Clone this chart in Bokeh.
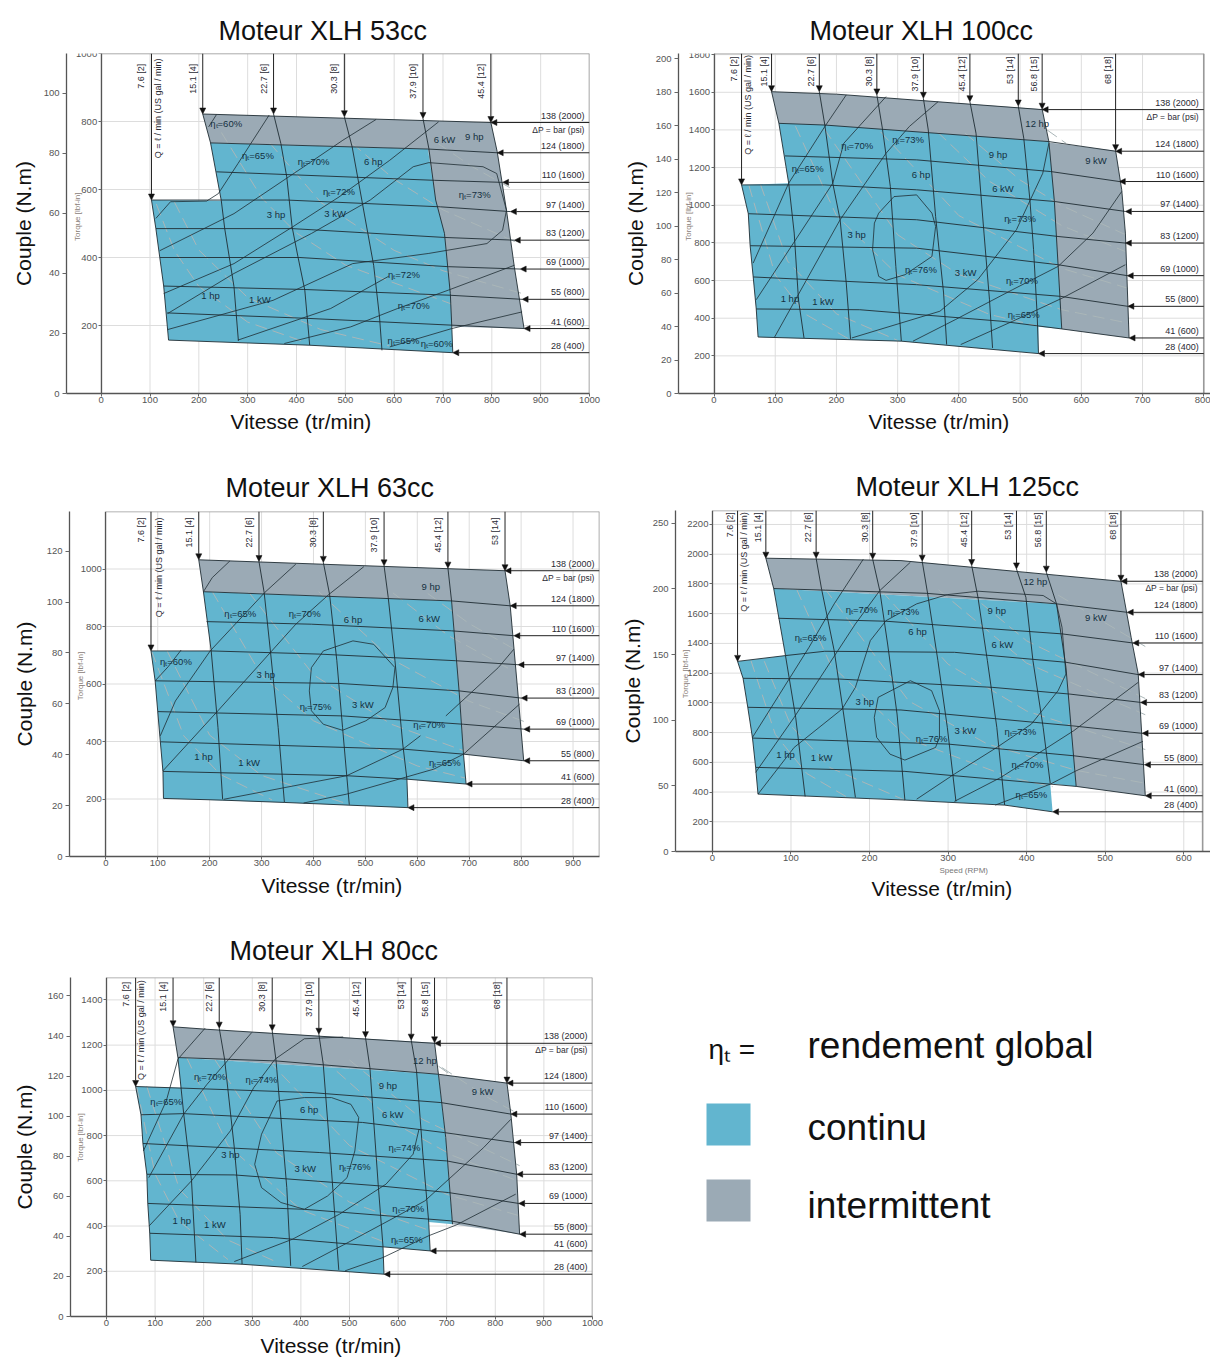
from bokeh.embed import file_html
from bokeh.resources import INLINE
from bokeh.plotting import figure
from bokeh.layouts import column, row
from bokeh.models import (Range1d, LinearAxis, FixedTicker, Arrow, NormalHead,
                          ColumnDataSource, Title)
from bokeh.core.properties import value

FONT = "Liberation Sans"
BLUE = "#62b5cf"
GREY = "#9baab5"
INK = "#1f2d33"

PRESS_NAMES = ["138 (2000)", "124 (1800)", "110 (1600)", "97 (1400)", "83 (1200)",
               "69 (1000)", "55 (800)", "41 (600)", "28 (400)"]
DP_NAME = "ΔP = bar (psi)"
Q_NAME = "Q = ℓ / min (US gal / min)"
TORQUE_NAME = "Torque [lbf-in]"

# ---------- 53cc ----------
C53_CONT = [(224,737),(669,719),(685,569),(703,471),(715,294),(718,196),(720,120),(427,142),(138,157),(128,316),(120,400),(112,485),(103,569),(246,567)]
C53_INT = [(208,822),(798,797),(811,711),(830,539),(846,373),(866,191),(718,196),(669,719),(224,737)]
C53_FLOW_NAMES = ["7.6 [2]","15.1 [4]","22.7 [6]","30.3 [8]","37.9 [10]","45.4 [12]"]
C53_FLOWS = [
 [(103,569),(112,485),(120,400),(128,316),(138,157)],
 [(208,822),(224,737),(246,567),(253,485),(272,314),(281,155)],
 [(353,822),(368,735),(380,637),(391,490),(403,402),(417,304),(427,142)],
 [(498,814),(514,725),(535,559),(558,377),(570,225),(575,127)],
 [(659,809),(671,721),(685,569),(703,471),(715,294),(718,196),(720,120)],
 [(798,797),(811,711),(830,539),(846,373),(866,191)]]
C53_PRESS = [
 [(208,822),(798,797)],
 [(224,737),(669,719),(811,708)],
 [(236,652),(683,627),(822,621)],
 [(103,569),(380,569),(695,549),(838,535)],
 [(112,485),(391,485),(703,459),(846,451)],
 [(120,400),(407,400),(711,373),(858,366)],
 [(128,316),(415,306),(714,289),(862,277)],
 [(135,237),(423,221),(718,201),(866,191)],
 [(138,157),(427,142),(720,120)]]
C53_ETA = [
 [(236,820),(220,784)],
 [(344,819),(280,676),(240,588),(216,566),(142,564),(112,515)],
 [(563,806),(495,745),(415,667),(272,529),(120,420)],
 [(691,799),(591,686),(487,578),(392,490),(272,382),(128,294)],
 [(136,235),(272,353),(431,471),(551,569),(639,667),(671,679),(782,667),(810,647),(830,539),(822,480),(790,441),(671,412),(515,382),(352,274),(136,188)],
 [(589,345),(470,250),(280,157)],
 [(846,377),(711,304),(607,250),(511,196),(375,147)],
 [(862,240),(718,191),(591,137)]]
C53_POWER = [
 [(113,557),(150,420),(200,315),(300,210),(420,150)],
 [(150,563),(200,422),(300,282),(450,188),(590,140)],
 [(246,768),(330,573),(400,472),(500,378),(718,263)],
 [(345,737),(450,562),(600,421),(700,361),(860,295)],
 [(513,737),(600,630),(700,540),(850,445)],
 [(690,735),(760,667),(840,603)]]
C53_NOTES = [("1 hp",224,287),("1 kW",325,276),("3 hp",358,526),("3 kW",479,529),("6 hp",557,683),("6 kW",703,748),("9 hp",764,755),
 ("ηₜ=60%",256,794),("ηₜ=65%",321,701),("ηₜ=70%",435,683),("ηₜ=72%",487,595),("ηₜ=73%",765,586),("ηₜ=72%",620,351),("ηₜ=70%",640,258),("ηₜ=65%",619,155),("ηₜ=60%",687,147)]

# ---------- 100cc ----------
C100_CONT = [(106,1435),(181,1426),(547,1338),(556,1020),(562,684),(568,343),(530,354),(530,212),(306,278),(72,300),(69,449),(64,619),(59,785),(56,955),(45,1108),(122,1117)]
C100_INT = [(94,1603),(200,1590),(536,1510),(547,1333),(656,1290),(666,1082),(672,852),(678,295),(568,343),(547,1338),(106,1435)]
C100_FLOW_NAMES = ["7.6 [2]","15.1 [4]","22.7 [6]","30.3 [8]","37.9 [10]","45.4 [12]","53 [14]","56.8 [15]","68 [18]"]
C100_FLOWS = [
 [(45,1108),(56,955),(59,785),(64,619),(69,449),(72,300)],
 [(94,1603),(106,1435),(122,1117),(131,852),(138,498),(147,295)],
 [(172,1603),(181,1426),(194,1117),(206,923),(216,587),(223,290)],
 [(266,1586),(275,1409),(288,1100),(297,675),(306,278)],
 [(342,1568),(350,1400),(362,940),(375,534),(380,260)],
 [(418,1550),(428,1382),(441,852),(450,498),(455,242)],
 [(497,1527),(506,1356),(516,1029),(522,764),(528,410),(530,212)],
 [(536,1510),(547,1338),(556,1020),(562,684),(568,343)],
 [(656,1290),(666,1082),(672,852),(678,295)]]
C100_PRESS = [
 [(94,1603),(200,1590),(536,1508)],
 [(106,1435),(181,1426),(547,1338),(656,1287)],
 [(116,1262),(331,1241),(550,1179),(662,1126)],
 [(45,1108),(181,1108),(331,1082),(556,1020),(672,967)],
 [(56,955),(331,923),(562,834),(672,799)],
 [(59,785),(331,772),(562,684),(675,626)],
 [(64,619),(331,578),(566,516),(676,463)],
 [(69,449),(238,445),(469,384),(568,343),(678,295)],
 [(72,300),(306,278),(530,212)]]
C100_ETA = [
 [(216,1586),(181,1418),(122,1117),(64,693)],
 [(281,1577),(212,1329),(194,1117),(69,498)],
 [(366,1550),(319,1418),(281,1276),(206,923),(99,300)],
 [(269,958),(294,1046),(331,1055),(356,958),(362,887),(356,728),(312,631),(281,601),(269,622),(259,764),(262,905),(269,958)],
 [(547,1329),(537,1170),(494,870),(431,605),(369,437),(225,295)],
 [(666,1073),(619,852),(562,675),(488,552),(394,392),(325,278)],
 [(672,684),(569,507),(488,384),(403,260)]]
C100_POWER = [
 [(57,1105),(100,630),(150,420),(220,290)],
 [(76,1110),(120,704),(200,423),(300,282)],
 [(133,1420),(200,945),(300,630),(450,420),(530,357)],
 [(180,1405),(300,843),(400,632),(568,445),(678,373)],
 [(272,1390),(400,945),(568,665),(676,559)],
 [(365,1389),(450,1127),(568,892),(672,754)],
 [(410,1383),(500,1134),(568,998),(672,844)],
 [(544,1400),(575,1329)]]
C100_NOTES = [("1 hp",124,507),("1 kW",178,490),("3 hp",233,843),("3 kW",411,643),("6 hp",338,1161),("6 kW",472,1090),("9 hp",464,1271),("9 kW",624,1237),("12 hp",528,1432),
 ("ηₜ=65%",153,1193),("ηₜ=70%",234,1315),("ηₜ=73%",317,1347),("ηₜ=76%",338,658),("ηₜ=73%",500,932),("ηₜ=70%",503,601),("ηₜ=65%",506,419)]

# ---------- 63cc ----------
C63_CONT = [(188,921),(666,889),(681,565),(689,356),(694,252),(580,269),(582,170),(344,188),(111,202),(110,296),(105,399),(100,504),(95,611),(87,715),(203,715)]
C63_INT = [(179,1032),(769,994),(779,872),(794,565),(805,333),(689,356),(666,889),(188,921)]
C63_FLOW_NAMES = ["7.6 [2]","15.1 [4]","22.7 [6]","30.3 [8]","37.9 [10]","45.4 [12]","53 [14]"]
C63_FLOWS = [
 [(87,715),(95,611),(100,504),(105,399),(110,296),(111,202)],
 [(179,1032),(188,921),(203,715),(216,449),(225,199)],
 [(295,1026),(305,918),(317,715),(332,449),(344,188)],
 [(419,1023),(431,912),(445,681),(456,449),(469,180)],
 [(536,1011),(544,901),(557,681),(572,391),(580,269),(582,170)],
 [(659,1003),(666,889),(681,565),(689,356),(694,252)],
 [(769,994),(779,872),(794,565),(805,333)]]
C63_PRESS = [
 [(179,1032),(769,994)],
 [(188,921),(666,889),(779,872)],
 [(194,817),(396,808),(666,785),(786,768)],
 [(87,715),(203,715),(411,704),(674,681),(794,667)],
 [(95,611),(449,602),(681,576),(800,551)],
 [(100,504),(456,489),(689,460),(805,443)],
 [(105,399),(576,373),(689,356),(805,333)],
 [(110,296),(464,281),(580,269),(694,252)],
 [(111,202),(224,196),(344,188),(582,170)]]
C63_ETA = [
 [(239,1028),(205,970),(188,921)],
 [(145,718),(120,660),(95,611)],
 [(366,1017),(306,918),(201,715),(134,541),(105,420)],
 [(497,1008),(430,912),(366,808),(216,507),(110,298)],
 [(396,657),(419,715),(476,750),(516,738),(557,657),(553,588),(538,518),(501,472),(456,439),(419,460),(396,507),(392,576),(396,657)],
 [(786,721),(756,657),(655,489)],
 [(606,420),(572,373),(464,281),(227,199)],
 [(797,530),(689,356),(632,304),(464,217),(381,186)]]
C63_POWER = [
 [(88,715),(150,420),(220,286),(320,197)],
 [(118,715),(200,422),(300,282),(470,180)],
 [(205,921),(300,630),(400,472),(600,315),(694,272)],
 [(275,920),(400,632),(550,460),(700,361)],
 [(410,921),(550,687),(700,540),(805,470)],
 [(553,917),(660,768),(780,650)],
 [(620,915),(700,810),(790,718)]]
C63_NOTES = [("1 hp",188,348),("1 kW",276,327),("3 hp",308,632),("3 kW",495,528),("6 hp",476,825),("6 kW",623,829),("9 hp",626,938),
 ("ηₜ=60%",135,678),("ηₜ=65%",259,845),("ηₜ=70%",383,845),("ηₜ=75%",404,522),("ηₜ=70%",623,460),("ηₜ=65%",653,327)]

# ---------- 125cc ----------
C125_CONT = [(78,1769),(438,1666),(450,1239),(463,438),(430,458),(433,267),(372,312),(245,346),(58,386),(55,566),(51,763),(45,970),(39,1165),(32,1279),(93,1318)]
C125_INT = [(68,1973),(240,1957),(520,1818),(533,1441),(542,1194),(551,375),(463,438),(438,1666),(78,1769)]
C125_FLOW_NAMES = ["7.6 [2]","15.1 [4]","22.7 [6]","30.3 [8]","37.9 [10]","45.4 [12]","53 [14]","56.8 [15]","68 [18]"]
C125_FLOWS = [
 [(32,1279),(39,1165),(45,970),(51,763),(55,566),(58,386)],
 [(68,1973),(78,1769),(93,1318),(106,902),(118,370)],
 [(132,1973),(139,1764),(155,1351),(167,925),(182,364)],
 [(204,1966),(213,1755),(223,1396),(235,925),(245,346)],
 [(267,1953),(274,1733),(287,1284),(299,835),(310,337)],
 [(330,1924),(338,1710),(350,1284),(362,835),(372,312)],
 [(387,1901),(399,1710),(408,1284),(421,835),(430,458)],
 [(425,1879),(438,1666),(450,1239),(463,438)],
 [(520,1818),(533,1441),(542,1194),(551,375)]]
C125_PRESS = [
 [(68,1973),(240,1957),(520,1818)],
 [(78,1769),(272,1737),(438,1666),(528,1609)],
 [(84,1569),(221,1549),(445,1464),(535,1403)],
 [(32,1279),(93,1318),(143,1347),(308,1340),(450,1273),(542,1190)],
 [(39,1165),(162,1160),(357,1104),(455,1059),(545,1003)],
 [(45,970),(240,952),(457,846),(547,795)],
 [(51,763),(299,723),(460,644),(550,584)],
 [(55,566),(245,539),(463,438),(551,375)],
 [(58,386),(245,346),(372,312),(433,267)]]
C125_ETA = [
 [(192,1966),(155,1666),(123,1374),(51,768)],
 [(252,1946),(213,1755),(182,1531),(104,902),(55,532)],
 [(438,1666),(421,1722),(338,1751),(299,1728),(260,1666),(221,1553),(201,1419),(182,1104),(165,958),(104,700),(58,386)],
 [(438,1666),(445,1508),(450,1194),(440,1082),(406,857),(362,700),(308,521),(260,352)],
 [(211,1037),(252,1149),(279,1082),(289,947),(289,768),(284,700),(245,615),(226,655),(209,768),(206,902),(211,1037)],
 [(542,1138),(460,813),(367,498),(308,337)],
 [(548,741),(463,543),(430,453),(360,312)]]
C125_POWER = [
 [(49,1285),(80,788),(120,525),(170,370)],
 [(66,1280),(100,845),(150,563),(245,345)],
 [(107,1766),(150,1260),(250,756),(380,497),(433,436)],
 [(143,1769),(250,1012),(350,723),(463,546),(551,459)],
 [(215,1755),(300,1260),(400,945),(551,686)],
 [(288,1760),(400,1267),(551,920)],
 [(325,1745),(400,1417),(551,1029)],
 [(440,1725),(551,1379)]]
C125_NOTES = [("1 hp",93,651),("1 kW",139,633),("3 hp",194,1010),("3 kW",322,817),("6 hp",261,1479),("6 kW",369,1392),("9 hp",362,1621),("9 kW",488,1576),("12 hp",411,1818),
 ("ηₜ=65%",125,1441),("ηₜ=70%",190,1625),("ηₜ=73%",243,1616),("ηₜ=76%",279,761),("ηₜ=73%",392,806),("ηₜ=70%",401,588),("ηₜ=65%",406,386)]

# ---------- 80cc ----------
C80_CONT = [(147,1145),(683,1071),(698,792),(712,408),(663,418),(666,290),(569,308),(571,187),(279,231),(91,249),(89,368),(85,500),(83,629),(75,765),(71,892),(60,1017),(153,1012)]
C80_INT = [(137,1281),(207,1270),(675,1210),(683,1071),(824,1032),(832,895),(844,629),(850,364),(712,408),(698,792),(683,1071),(147,1145)]
C80_FLOW_NAMES = ["7.6 [2]","15.1 [4]","22.7 [6]","30.3 [8]","37.9 [10]","45.4 [12]","53 [14]","56.8 [15]","68 [18]"]
C80_FLOWS = [
 [(60,1017),(71,892),(75,765),(83,629),(85,500),(89,368),(91,249)],
 [(137,1281),(147,1145),(159,895),(175,600),(184,239)],
 [(232,1275),(243,1138),(263,747),(275,452),(279,231)],
 [(341,1263),(349,1130),(371,570),(379,224)],
 [(437,1248),(446,1116),(463,644),(478,206)],
 [(533,1233),(542,1101),(559,585),(569,308),(571,187)],
 [(627,1222),(638,1086),(651,718),(663,418),(666,290)],
 [(675,1210),(683,1071),(698,792),(712,408)],
 [(824,1032),(832,895),(844,629),(850,364)]]
C80_PRESS = [
 [(137,1281),(207,1270),(675,1208)],
 [(147,1145),(349,1130),(683,1071),(824,1032)],
 [(60,1017),(423,990),(688,946),(832,895)],
 [(71,892),(159,897),(527,858),(696,813),(840,769)],
 [(75,765),(439,725),(700,688),(844,629)],
 [(83,629),(263,626),(559,578),(704,548),(848,500)],
 [(85,500),(407,474),(708,423),(850,364)],
 [(89,368),(343,349),(569,308),(666,290)],
 [(91,249),(279,231),(571,187)]]
C80_ETA = [
 [(203,1275),(147,1138),(123,953),(76,732)],
 [(299,1256),(243,1116),(207,1027),(159,895),(87,614)],
 [(487,1236),(407,1228),(347,1138),(303,1012),(255,821),(175,600),(88,401)],
 [(643,828),(631,718),(575,585),(479,452),(383,342),(263,243)],
 [(351,953),(407,968),(463,968),(503,938),(519,880),(511,732),(495,614),(455,533),(407,474),(359,504),(319,570),(305,673),(319,806),(351,953)],
 [(832,872),(776,747),(655,511),(599,445),(503,334),(403,221)],
 [(842,541),(720,405),(663,357),(569,261),(491,202)]]
C80_POWER = [
 [(62,1016),(100,630),(150,420),(250,252)],
 [(83,1018),(150,563),(250,338),(350,241)],
 [(165,1145),(250,756),(400,472),(569,332)],
 [(222,1139),(350,723),(500,506),(663,382)],
 [(335,1128),(500,756),(700,540),(850,445)],
 [(446,1137),(600,845),(712,712),(850,596)],
 [(500,1134),(650,872),(850,667)],
 [(690,1101),(780,974),(840,905)],
 [(683,1107),(720,1050)]]
C80_NOTES = [("1 hp",155,423),("1 kW",223,408),("3 hp",255,715),("3 kW",409,654),("6 hp",417,917),("6 kW",589,892),("9 hp",579,1020),("9 kW",774,995),("12 hp",655,1133),
 ("ηₜ=65%",123,949),("ηₜ=70%",213,1060),("ηₜ=74%",319,1049),("ηₜ=76%",511,663),("ηₜ=74%",613,747),("ηₜ=70%",621,479),("ηₜ=65%",618,342)]


def unzip(curves):
    return [[p[0] for p in c] for c in curves], [[p[1] for p in c] for c in curves]


def panel(title, width, height, borders, x_range, xend, lbf_top, nm_top, speed_ticks, lbf_ticks, nm_ticks,
          cont, inter, flow_names, flows, press, eta, power, notes,
          flow_top, q_x, q_top, torque_xy, xlabel_offset, xlabel_standoff, title_x, title_gap, ylabel_gap,
          label_dx=-3, speed_note=None):
    left, right, top, bottom = borders
    xmin, xmax = x_range
    p = figure(width=width, height=height, x_range=Range1d(xmin, xmax), y_range=Range1d(0, lbf_top),
               y_axis_location=None, toolbar_location=None, output_backend="svg",
               min_border_left=left, min_border_right=right, min_border_top=top, min_border_bottom=bottom)
    p.outline_line_color = None
    p.grid.visible = False
    p.background_fill_color = "white"

    # title
    p.title.text = title
    p.title.align = "left"
    p.title.offset = title_x
    p.title.standoff = title_gap
    p.title.text_font = FONT
    p.title.text_font_size = "27px"
    p.title.text_font_style = "normal"
    p.title.text_color = "#111111"

    # axes
    xa = p.xaxis[0]
    xa.ticker = FixedTicker(ticks=speed_ticks)
    p.extra_y_ranges["nm"] = Range1d(0, nm_top)
    nm = LinearAxis(y_range_name="nm", ticker=FixedTicker(ticks=nm_ticks), axis_label="Couple (N.m)")
    lbf = LinearAxis(fixed_location=0, ticker=FixedTicker(ticks=lbf_ticks))
    p.add_layout(nm, "left")
    p.add_layout(lbf, "left")
    for a in (xa, nm, lbf):
        a.axis_line_color = "#555555"
        a.axis_line_width = 1.3
        a.major_tick_line_color = "#666666"
        a.major_tick_out = 4
        a.major_tick_in = 0
        a.minor_tick_line_color = None
        a.major_label_text_font = FONT
        a.major_label_text_font_size = "9.5px"
        a.major_label_text_color = "#555555"
        a.major_label_standoff = 3
    xa.major_tick_out = 3
    xa.major_label_standoff = 0
    lbf.major_tick_out = 3
    lbf.major_label_standoff = 1
    nm.axis_label_text_font = FONT
    nm.axis_label_text_font_size = "21px"
    nm.axis_label_text_font_style = "normal"
    nm.axis_label_text_color = "#111111"
    nm.axis_label_standoff = ylabel_gap
    if speed_note is not None:
        p.add_layout(Title(text=speed_note[0], align="left", offset=speed_note[1], standoff=0, text_font=FONT,
                           text_font_size="8px", text_font_style="normal", text_color="#777777"), "below")
    p.add_layout(Title(text="Vitesse (tr/min)", align="left", offset=xlabel_offset, standoff=xlabel_standoff,
                       text_font=FONT, text_font_size="21px", text_font_style="normal", text_color="#111111"), "below")

    # grid and frame
    p.segment(speed_ticks, [0] * len(speed_ticks), speed_ticks, [lbf_top] * len(speed_ticks),
              line_color="#dddddd", line_width=1)
    p.segment([0] * len(lbf_ticks), lbf_ticks, [xend] * len(lbf_ticks), lbf_ticks,
              line_color="#dddddd", line_width=1)
    p.segment([0, xend], [lbf_top, 0], [xend, xend], [lbf_top, lbf_top], line_color="#999999", line_width=1.6)

    # envelopes
    p.patch([c[0] for c in inter], [c[1] for c in inter], fill_color=GREY, line_color=None)
    p.patch([c[0] for c in cont], [c[1] for c in cont], fill_color=BLUE, line_color=None)

    # power curves, then efficiency, flow and pressure lines
    xs, ys = unzip(power)
    p.multi_line(xs, ys, line_color="#aab6b8", line_width=1, line_dash="12 6", line_join="round")
    xs, ys = unzip(eta)
    p.multi_line(xs, ys, line_color=INK, line_width=0.8, line_join="round")
    xs, ys = unzip(flows)
    p.multi_line(xs, ys, line_color=INK, line_width=0.9, line_join="round")
    xs, ys = unzip(press)
    p.multi_line(xs, ys, line_color=INK, line_width=0.9, line_join="round")

    # arrows
    tips_x = [f[0][0] for f in flows]
    tips_y = [f[0][1] for f in flows]
    p.add_layout(Arrow(source=ColumnDataSource(dict(x0=tips_x, y0=[lbf_top] * len(tips_x), x1=tips_x, y1=tips_y)),
                       x_start="x0", y_start="y0", x_end="x1", y_end="y1", line_color="#222222", line_width=1,
                       end=NormalHead(size=6, fill_color="#111111", line_color="#111111", line_width=0.5)))
    r_x = [c[-1][0] for c in press]
    r_y = [c[-1][1] for c in press]
    p.add_layout(Arrow(source=ColumnDataSource(dict(x0=[xend] * len(r_x), y0=r_y, x1=r_x, y1=r_y)),
                       x_start="x0", y_start="y0", x_end="x1", y_end="y1", line_color="#222222", line_width=1,
                       end=NormalHead(size=6, fill_color="#111111", line_color="#111111", line_width=0.5)))

    # labels of the flows and pressures
    p.text(tips_x, [flow_top] * len(tips_x), text=flow_names, angle=1.5708, text_align="right",
           text_baseline="bottom", x_offset=label_dx, text_font=value(FONT), text_font_size=value("9px"),
           text_color="#2a2a33")
    p.text([q_x], [q_top], text=[Q_NAME], angle=1.5708, text_align="right", text_baseline="middle",
           text_font=value(FONT), text_font_size=value("9px"), text_color="#2a2a33")
    p.text([xend] * len(press), r_y, text=PRESS_NAMES, text_align="right", text_baseline="middle",
           x_offset=-5, y_offset=-7, text_font=value(FONT), text_font_size=value("9px"), text_color="#2a2a33")
    p.text([xend], [r_y[0]], text=[DP_NAME], text_align="right", text_baseline="middle",
           x_offset=-5, y_offset=7, text_font=value(FONT), text_font_size=value("8.5px"), text_color="#2a2a33")
    p.text([torque_xy[0]], [torque_xy[1]], text=[TORQUE_NAME], angle=1.5708, text_align="center",
           text_baseline="middle", text_font=value(FONT), text_font_size=value("8px"), text_color="#8a8078")

    # notes in the map
    p.text([n[1] for n in notes], [n[2] for n in notes], text=[n[0] for n in notes], text_align="center",
           text_baseline="middle", text_font=value(FONT), text_font_size=value("9.5px"), text_color="#14303f")
    return p


p53 = panel("Moteur XLH 53cc", 610, 450, (66, 21, 53, 57), (-71, 1000), 1000, 1000, 113.3,
            list(range(0, 1001, 100)), [200, 400, 600, 800, 1000], [0, 20, 40, 60, 80, 100],
            C53_CONT, C53_INT, C53_FLOW_NAMES, C53_FLOWS, C53_PRESS, C53_ETA, C53_POWER, C53_NOTES,
            970, 116, 985, (-49, 520), 164, 5, 152, 16, 6, label_dx=-5)
p100 = panel("Moteur XLH 100cc", 600, 450, (68, 0, 53, 57), (-58, 811), 800, 1806, 203,
             list(range(0, 801, 100)), [200, 400, 600, 800, 1000, 1200, 1400, 1600, 1800], [0, 20, 40, 60, 80, 100, 120, 140, 160, 180, 200],
             C100_CONT, C100_INT, C100_FLOW_NAMES, C100_FLOWS, C100_PRESS, C100_ETA, C100_POWER, C100_NOTES,
             1790, 56, 1798, (-41, 940), 190, 4, 131, 16, 6)
p63 = panel("Moteur XLH 63cc", 610, 462, (69, 11, 61, 56), (-70, 951), 951, 1200, 135.6,
            list(range(0, 901, 100)), [200, 400, 600, 800, 1000], [0, 20, 40, 60, 80, 100, 120],
            C63_CONT, C63_INT, C63_FLOW_NAMES, C63_FLOWS, C63_PRESS, C63_ETA, C63_POWER, C63_NOTES,
            1179, 103, 1179, (-48, 628), 192, 7, 156, 18, 8, label_dx=-5)
p125 = panel("Moteur XLH 125cc", 600, 462, (65, 0, 60, 61), (-47, 634), 624, 2294, 259.7,
             list(range(0, 601, 100)), [200, 400, 600, 800, 1000, 1200, 1400, 1600, 1800, 2000, 2200], [0, 50, 100, 150, 200, 250],
             C125_CONT, C125_INT, C125_FLOW_NAMES, C125_FLOWS, C125_PRESS, C125_ETA, C125_POWER, C125_NOTES,
             2283, 40, 2283, (-34, 1194), 196, 0, 180, 17, 6, speed_note=("Speed (RPM)", 264))
p80 = panel("Moteur XLH 80cc", 610, 450, (70, 18, 65, 46), (-74, 1000), 1000, 1499, 169.2,
            list(range(0, 1001, 100)), [200, 400, 600, 800, 1000, 1200, 1400], [0, 20, 40, 60, 80, 100, 120, 140, 160],
            C80_CONT, C80_INT, C80_FLOW_NAMES, C80_FLOWS, C80_PRESS, C80_ETA, C80_POWER, C80_NOTES,
            1480, 72, 1487, (-54, 791), 190, 7, 159, 23, 9, label_dx=-5)

# key
KEY_NAMES = ["rendement global", "continu", "intermittent"]
key = figure(width=600, height=450, x_range=Range1d(0, 600), y_range=Range1d(404, 65),
             x_axis_location=None, y_axis_location=None, toolbar_location=None, output_backend="svg",
             min_border_left=0, min_border_right=0, min_border_top=65, min_border_bottom=46)
key.outline_line_color = None
key.grid.visible = False
key.quad(left=[96, 96], right=[140, 140], top=[191, 267], bottom=[233, 309],
         fill_color=[BLUE, GREY], line_color=None)
key.text([197, 197, 197], [133, 215, 293], text=KEY_NAMES, text_baseline="middle",
         text_font=value(FONT), text_font_size=value("37px"), text_color="#111111")
key.text([98], [137], text=["ηₜ ="], text_baseline="middle", text_font=value(FONT),
         text_font_size=value("28px"), text_color="#111111")

page = column(row(p53, p100, spacing=0), row(column(p63), column(p125), spacing=0), row(p80, key, spacing=0), spacing=0)
open("out.html", "w").write(file_html(page, INLINE))
